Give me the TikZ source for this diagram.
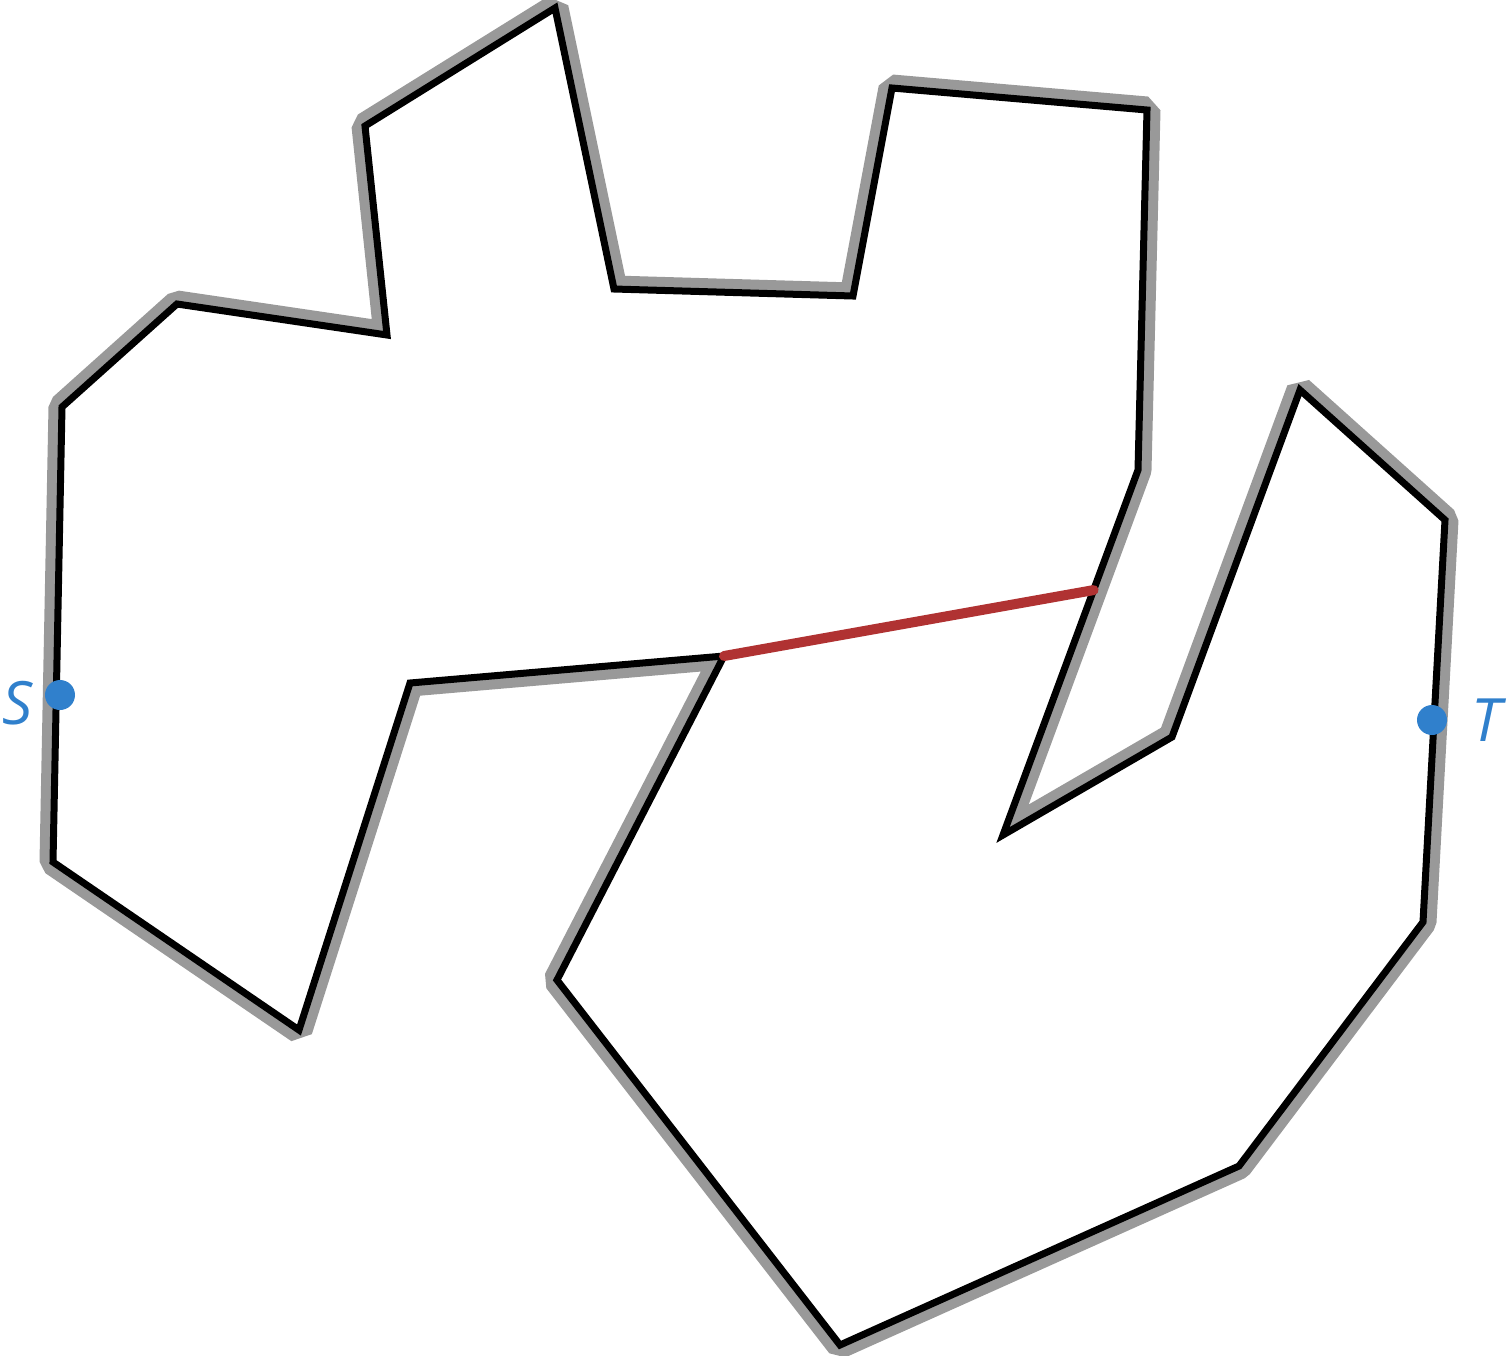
\documentclass[tikz,border=0pt]{standalone}
\usepackage{fontspec}
\usepackage{tikz}
\usetikzlibrary{calc,positioning}
\newfontfamily\tagfont{Open Sans}
\definecolor{RimInk}{HTML}{000000}
\definecolor{HaloGrey}{HTML}{999999}
\definecolor{CutRed}{HTML}{B03232}
\definecolor{PinBlue}{HTML}{3080CC}

\begin{document}
\begin{tikzpicture}[
  x=0.1mm,y=-0.1mm,
  rim/.style={draw=RimInk,line width=0.7mm,line join=miter,fill=white,
    preaction={draw=HaloGrey,line width=2.7mm,line join=bevel}},
  cut/.style={draw=CutRed,line width=1mm,line cap=round},
  pin/.style={circle,fill=PinBlue,minimum size=3mm,inner sep=0pt},
  tag/.style={text=PinBlue,inner sep=0pt,font=\tagfont\itshape\fontsize{17}{20}\selectfont}
]
\useasboundingbox (0,0) rectangle (1508,1355);
% corners of the outline
\coordinate (c1) at (62,407);
\coordinate (c2) at (177,304);
\coordinate (c3) at (387,335);
\coordinate (c4) at (365,126);
\coordinate (c5) at (555,8);
\coordinate (c6) at (614,289);
\coordinate (c7) at (853,296);
\coordinate (c8) at (892,88);
\coordinate (c9) at (1147,110);
\coordinate (c10) at (1138,470);
\coordinate (c11) at (1003,835);
\coordinate (c12) at (1172,737);
\coordinate (c13) at (1300,390);
\coordinate (c14) at (1445,520);
\coordinate (c15) at (1423,922);
\coordinate (c16) at (1239,1166);
\coordinate (c17) at (840,1345);
\coordinate (c18) at (557,980);
\coordinate (c19) at (724,656);
\coordinate (c20) at (410,683);
\coordinate (c21) at (299,1030);
\coordinate (c22) at (53,862);
\coordinate (gate) at ($(c10)!0.329!(c11)$);
\path[rim] (c1) -- (c2) -- (c3) -- (c4) -- (c5) -- (c6) -- (c7) -- (c8)
  -- (c9) -- (c10) -- (c11) -- (c12) -- (c13) -- (c14) -- (c15) -- (c16)
  -- (c17) -- (c18) -- (c19) -- (c20) -- (c21) -- (c22) -- cycle;
\draw[cut] (c19) -- (gate);
\node[pin] (s) at (60,695) {};
\node[pin] (t) at (1432,720) {};
\node[tag,left=1.6mm of s,yshift=-0.8mm,xshift=0.5mm] (slabel) {S};
\node[tag,right=2.3mm of t] (tlabel) {T};
\end{tikzpicture}
\end{document}
